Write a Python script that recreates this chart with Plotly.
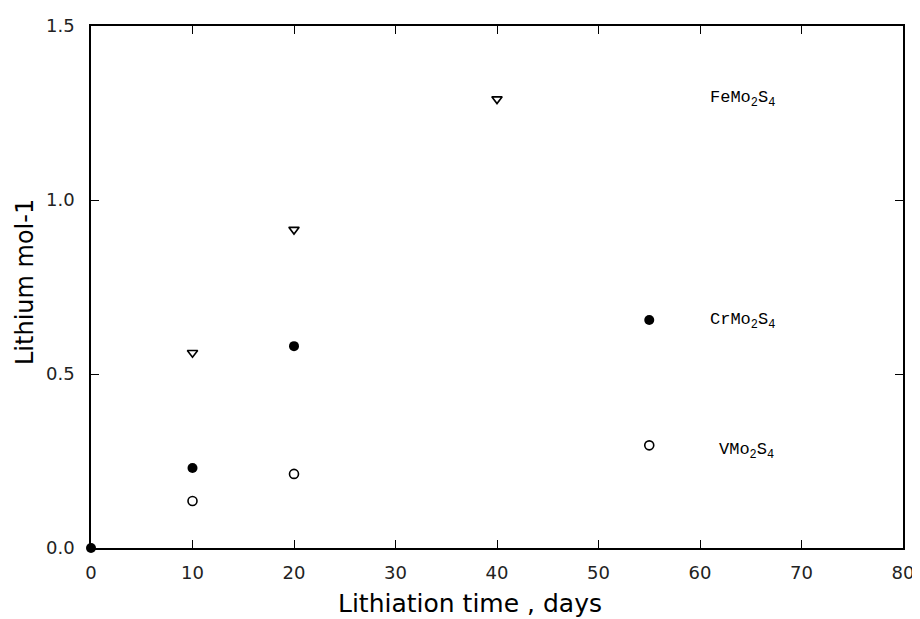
import plotly.graph_objects as go

# Data
fe_days = [10, 20, 40]
fe_li = [0.561, 0.915, 1.29]
cr_days = [0, 10, 20, 55]
cr_li = [0.0, 0.23, 0.58, 0.655]
v_days = [10, 20, 55]
v_li = [0.135, 0.213, 0.295]

x_ticks = [0, 10, 20, 30, 40, 50, 60, 70, 80]
y_ticks = [0.0, 0.5, 1.0, 1.5]
y_tick_labels = ["0.0", "0.5", "1.0", "1.5"]

label_text = ["FeMo<sub>2</sub>S<sub>4</sub>", "CrMo<sub>2</sub>S<sub>4</sub>", "VMo<sub>2</sub>S<sub>4</sub>"]
label_x = [60.8, 60.8, 61.7]
label_y = [1.29, 0.652, 0.278]

x_title = "Lithiation time , days"
y_title = "Lithium mol-1"

fig = go.Figure()
fig.add_trace(go.Scatter(x=fe_days, y=fe_li, mode="markers", name="FeMo2S4",
                         marker=dict(symbol="triangle-down-open", size=9, color="black",
                                     line=dict(width=1.6, color="black"))))
fig.add_trace(go.Scatter(x=v_days, y=v_li, mode="markers", name="VMo2S4",
                         marker=dict(symbol="circle-open", size=9, color="black",
                                     line=dict(width=1.6, color="black"))))
fig.add_trace(go.Scatter(x=cr_days, y=cr_li, mode="markers", name="CrMo2S4",
                         marker=dict(symbol="circle", size=10, color="black"),
                         cliponaxis=False))

for t, xx, yy in zip(label_text, label_x, label_y):
    fig.add_annotation(x=xx, y=yy, text=t, showarrow=False, xanchor="left", yanchor="middle",
                       font=dict(family="Liberation Mono", size=17, color="black"))

fig.add_annotation(xref="paper", yref="paper", x=0.467, y=-0.107, text=x_title,
                   showarrow=False, xanchor="center", yanchor="middle",
                   font=dict(family="DejaVu Sans", size=25, color="black"))
fig.add_annotation(xref="paper", yref="paper", x=-0.081, y=0.51, text=y_title,
                   showarrow=False, xanchor="center", yanchor="middle", textangle=-90,
                   font=dict(family="DejaVu Sans", size=24, color="black"))

axis_common = dict(showline=True, linecolor="black", linewidth=1.5, mirror="ticks",
                   ticks="inside", ticklen=8, tickwidth=1, tickcolor="black",
                   showgrid=False, zeroline=False, automargin=False,
                   tickfont=dict(family="DejaVu Sans", size=18, color="#222"))

fig.update_xaxes(range=[0, 80], tickvals=x_ticks, ticklabelstandoff=8, **axis_common)
fig.update_yaxes(range=[0, 1.5], tickvals=y_ticks, ticktext=y_tick_labels,
                 ticklabelstandoff=11, **axis_common)

# the page body adds an 8px margin, so the figure is sized to fit the 920x619 window
fig.update_layout(width=912, height=611, showlegend=False,
                  paper_bgcolor="white", plot_bgcolor="white",
                  margin=dict(l=83, r=17, t=18, b=71))

fig.write_html("out.html")
